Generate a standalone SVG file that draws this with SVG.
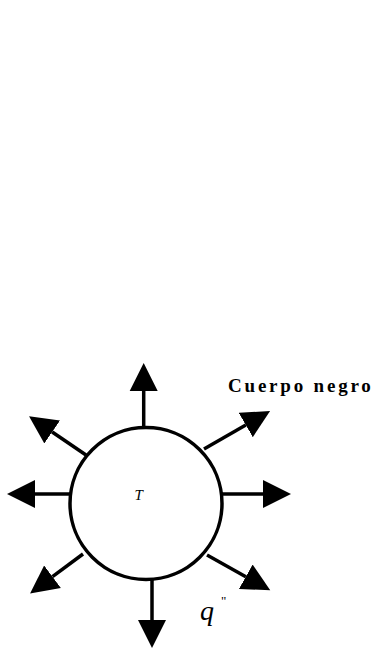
<svg xmlns="http://www.w3.org/2000/svg" width="376" height="650" viewBox="0 0 376 650">
<style>
.ln{stroke:#000;stroke-width:3.5;fill:none}
.body{stroke:#000;stroke-width:3.5;fill:#fff}
.lbl{font-family:"Liberation Serif","Times New Roman",serif;fill:#000}
</style>
<defs>
<marker id="ah" markerUnits="userSpaceOnUse" markerWidth="30" markerHeight="30" viewBox="0 -15 30 30" refX="0" refY="0" orient="auto">
<path d="M0,-14 L28,0 L0,14 z" fill="#000"/>
</marker>
</defs>
<rect width="376" height="650" fill="#fff"/>
<g id="connectors">
<line class="ln" x1="143.7" y1="426" x2="143.7" y2="391" marker-end="url(#ah)"/>
<line class="ln" x1="152" y1="580" x2="152" y2="620" marker-end="url(#ah)"/>
<line class="ln" x1="70" y1="494" x2="35" y2="494" marker-end="url(#ah)"/>
<line class="ln" x1="222" y1="494" x2="263" y2="494" marker-end="url(#ah)"/>
<line class="ln" x1="204" y1="449" x2="245.8" y2="425" marker-end="url(#ah)"/>
<line class="ln" x1="86" y1="455" x2="52.2" y2="432" marker-end="url(#ah)"/>
<line class="ln" x1="83" y1="554" x2="52.5" y2="576.7" marker-end="url(#ah)"/>
<line class="ln" x1="207" y1="555" x2="245.8" y2="576.7" marker-end="url(#ah)"/>
</g>
<g id="body">
<circle class="body" cx="146" cy="503.5" r="76"/>
<text class="lbl" x="134.5" y="499.5" font-size="15" font-style="italic">T</text>
</g>
<g id="label-cuerpo">
<text class="lbl" x="228" y="392" font-size="19" font-weight="bold" letter-spacing="2.8">Cuerpo negro</text>
</g>
<g id="label-q">
<text class="lbl" x="200" y="620" font-size="28" font-style="italic">q</text>
<text class="lbl" x="221" y="605" font-size="13">"</text>
</g>
</svg>
